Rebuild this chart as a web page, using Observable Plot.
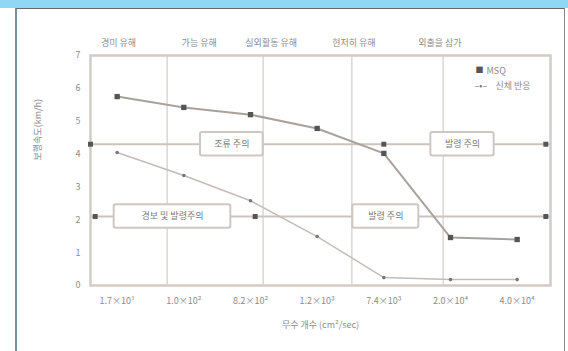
<!DOCTYPE html>
<html><head><meta charset="utf-8">
<script src="https://cdn.jsdelivr.net/npm/d3@7"></script>
<script src="https://cdn.jsdelivr.net/npm/@observablehq/plot@0.6"></script>
<style>
body{margin:0;background:#fff;}
#wrap{position:relative;width:568px;height:351px;overflow:hidden;}
#band{position:absolute;left:0;top:0;width:568px;height:8px;background:#8fd7f5;}
#box{position:absolute;left:15px;top:8px;width:550px;height:350px;border-left:2px solid #7591a3;border-top:1.5px solid #6a6a6a;border-right:1.5px solid #8a8a8a;box-sizing:border-box;}
#chart{position:absolute;left:0;top:0;}
</style></head><body>
<div id="wrap"><div id="band"></div><div id="box"></div><div id="chart"></div></div>
<script>
const categories = ["1.7×10¹","1.0×10²","8.2×10²","1.2×10³","7.4×10³","2.0×10⁴","4.0×10⁴"];
const msq = [5.75,5.42,5.2,4.78,4.02,1.46,1.4];
const body = [4.05,3.35,2.58,1.49,0.24,0.18,0.18];
const seriesNames = ["MSQ","신체 반응"];
const xTitle = "무수 개수 (cm²/sec)";
const yTitle = "보행속도(km/h)";
const zoneLabels = ["경미 유해","가능 유해","실외활동 유해","현저히 유해","외출을 삼가"];
const zoneLabelX = [0.02,1.23,2.31,3.55,4.84];
const zoneBounds = [0.75,2.19,3.52,4.89];
const levelValues = [4.3,2.1];
const levelMarkX = [-0.4,4,6.43,-0.33,2.07,6.43];
const levelMarkY = [4.3,4.3,4.3,2.1,2.1,2.1];
const boxLabels = ["조류 주의","발령 주의","경보 및 발령주의","발령 주의"];
const boxX = [1.72,5.18,0.83,4.03];
const boxY = [4.3,4.3,2.1,2.1];
const boxW = [0.94,0.95,1.75,0.99];

const idx = d3.range(categories.length);
const boxes = boxLabels.map((t,k)=>({t, x1:boxX[k]-boxW[k]/2, x2:boxX[k]+boxW[k]/2, y1:boxY[k]-0.36, y2:boxY[k]+0.36, cx:boxX[k], cy:boxY[k]}));

const chart = Plot.plot({
  width:568, height:351, marginLeft:90, marginRight:18, marginTop:55, marginBottom:66,
  style:{fontFamily:"'Noto Sans CJK KR','Noto Sans',sans-serif", fontSize:"9px", color:"#8c8c8c", background:"transparent"},
  x:{domain:[-0.4,6.5], ticks: idx, tickFormat: i=>categories[i], tickSize:0, tickPadding:12, label:null},
  y:{domain:[0,7], ticks: d3.range(0,8), tickFormat: d3.format("d"), tickSize:0, tickPadding:10, label:null},
  marks:[
    Plot.ruleX(zoneBounds, {stroke:"#ddd6d2", strokeWidth:1.5}),
    Plot.ruleY(levelValues, {stroke:"#cbc3bf", strokeWidth:2}),
    Plot.frame({stroke:"#d3cbc7", strokeWidth:2.5}),
    Plot.line(body, {x:(d,i)=>i, y:d=>d, stroke:"#c4bcb8", strokeWidth:1.5}),
    Plot.dot(body, {x:(d,i)=>i, y:d=>d, r:1.8, fill:"#777", stroke:"none"}),
    Plot.line(msq, {x:(d,i)=>i, y:d=>d, stroke:"#aaa19d", strokeWidth:2}),
    Plot.dot(msq, {x:(d,i)=>i, y:d=>d, symbol:"square", r:3, fill:"#555", stroke:"none"}),
    Plot.dot(levelMarkX, {x:d=>d, y:(d,i)=>levelMarkY[i], symbol:"square", r:2.8, fill:"#555", stroke:"none"}),
    Plot.rect(boxes, {x1:"x1", x2:"x2", y1:"y1", y2:"y2", fill:"#fff", stroke:"#cfc7c3", strokeWidth:2, rx:2}),
    Plot.text(boxes, {x:"cx", y:"cy", text:"t", fill:"#7a7a7a", fontSize:9}),
    Plot.text(zoneLabels, {x:zoneLabelX, text:d=>d, frameAnchor:"top", dy:-16, fill:"#8c8c8c"}),
    Plot.text([xTitle], {text:d=>d, frameAnchor:"bottom", dy:42, fill:"#8c8c8c"}),
    Plot.text([yTitle], {text:d=>d, frameAnchor:"left", dx:-52, dy:-10, rotate:-90, fill:"#8c8c8c"}),
    Plot.text(["■"], {text:d=>d, frameAnchor:"top-right", dx:-75, dy:12, fill:"#555", fontSize:8, textAnchor:"start"}),
    Plot.text([seriesNames[0]], {text:d=>d, frameAnchor:"top-right", dx:-64, dy:12, fill:"#8c8c8c", textAnchor:"start"}),
    Plot.text(["–•–"], {text:d=>d, frameAnchor:"top-right", dx:-76, dy:27, fill:"#777", textAnchor:"start"}),
    Plot.text([seriesNames[1]], {text:d=>d, frameAnchor:"top-right", dx:-55, dy:27, fill:"#8c8c8c", textAnchor:"start"})
  ]
});
document.getElementById("chart").appendChild(chart);
</script>
</body></html>
